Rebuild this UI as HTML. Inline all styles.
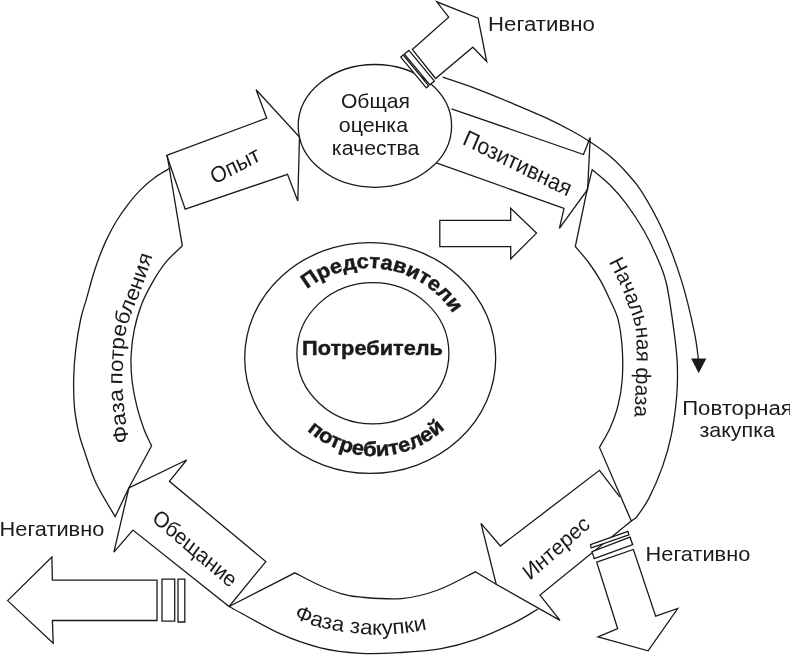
<!DOCTYPE html>
<html><head><meta charset="utf-8"><title>diagram</title>
<style>
html,body{margin:0;padding:0;background:#fff;}
body{width:790px;height:655px;overflow:hidden;font-family:"Liberation Sans",sans-serif;}
svg{display:block;will-change:transform;opacity:0.999;}
</style></head><body>
<svg width="790" height="655" viewBox="0 0 790 655">
<rect width="790" height="655" fill="#fff"/>
<defs>
<path id="p_fp" d="M129.3 447.0 C129.2 446.0 128.9 444.7 128.5 441.0 C128.1 437.3 127.3 430.5 126.6 425.0 C125.9 419.5 125.0 413.7 124.3 408.0 C123.6 402.3 122.9 395.7 122.6 391.0 C122.3 386.3 122.4 383.8 122.4 380.0 C122.4 376.2 122.7 371.7 122.8 368.0 C122.9 364.3 123.1 361.4 123.3 358.0 C123.5 354.6 123.7 350.7 123.9 347.3 C124.2 343.9 124.3 340.6 124.8 337.4 C125.3 334.2 126.0 331.2 126.8 328.0 C127.6 324.8 128.3 322.1 129.6 318.4 C130.9 314.7 132.8 309.9 134.4 306.0 C136.0 302.1 137.7 298.7 139.2 295.0 C140.7 291.3 141.9 287.9 143.3 284.0 C144.7 280.1 146.0 275.7 147.4 271.6 C148.8 267.5 150.5 262.2 151.5 259.2 C152.5 256.2 152.6 256.1 153.3 253.7 C154.1 251.3 155.6 246.4 156.0 245.0"/>
<path id="p_nf" d="M605.5 255.0 C606.1 256.4 607.1 258.6 609.4 263.1 C611.7 267.7 616.8 277.6 619.1 282.3 C621.4 287.0 621.9 288.0 623.2 291.3 C624.5 294.6 625.6 298.8 626.9 302.3 C628.2 305.9 629.8 309.2 631.0 312.6 C632.2 316.0 633.3 319.3 634.2 322.9 C635.1 326.5 635.8 329.5 636.2 334.0 C636.6 338.5 636.6 344.8 636.6 350.0 C636.6 355.2 636.4 358.3 636.2 365.0 C636.0 371.7 635.8 381.5 635.5 390.0 C635.2 398.5 635.0 407.7 634.5 416.0 C634.0 424.3 632.8 436.0 632.5 440.0"/>
<path id="p_fz" d="M290.0 614.0 C291.7 615.1 295.0 618.3 300.0 620.5 C305.0 622.7 312.2 625.3 320.0 627.3 C327.8 629.2 337.6 631.0 346.8 632.2 C356.0 633.4 366.1 634.5 375.0 634.7 C383.9 634.9 391.7 634.4 400.0 633.6 C408.3 632.8 417.5 631.4 425.0 629.8 C432.5 628.2 441.7 625.0 445.0 624.0"/>
<path id="p_pr" d="M306.9 289.0 C308.0 288.3 311.2 285.9 313.4 284.4 C315.6 283.0 317.8 281.6 320.2 280.4 C322.5 279.1 324.8 277.9 327.2 276.9 C329.7 275.8 332.1 274.8 334.6 273.9 C337.1 273.0 339.6 272.2 342.1 271.5 C344.7 270.8 347.3 270.2 349.9 269.8 C352.5 269.3 355.1 268.9 357.7 268.6 C360.3 268.3 363.0 268.1 365.6 268.0 C368.2 268.0 370.9 268.0 373.5 268.1 C376.1 268.2 378.8 268.5 381.4 268.8 C384.0 269.1 386.6 269.6 389.2 270.1 C391.8 270.6 394.4 271.3 396.9 272.0 C399.4 272.8 401.9 273.6 404.4 274.5 C406.9 275.5 409.3 276.5 411.7 277.6 C414.1 278.7 416.4 279.9 418.7 281.3 C421.0 282.6 423.3 284.0 425.4 285.4 C427.6 286.9 429.7 288.5 431.8 290.1 C433.9 291.8 435.9 293.5 437.8 295.3 C439.7 297.1 441.6 299.0 443.4 300.9 C445.1 302.9 446.8 304.9 448.5 307.0 C450.1 309.1 451.6 311.2 453.1 313.4 C454.5 315.6 455.9 317.9 457.2 320.2 C458.5 322.5 459.7 324.9 460.8 327.3 C461.8 329.7 463.2 333.4 463.7 334.6"/>
<path id="p_po" d="M306.9 430.3 C307.9 431.1 310.8 433.6 312.8 435.1 C314.8 436.7 316.9 438.1 319.0 439.5 C321.1 440.9 323.3 442.2 325.5 443.4 C327.7 444.6 330.0 445.7 332.3 446.8 C334.6 447.8 336.9 448.8 339.3 449.7 C341.6 450.6 344.1 451.4 346.5 452.1 C348.9 452.8 351.4 453.4 353.8 453.9 C356.3 454.4 358.8 454.8 361.3 455.2 C363.8 455.5 366.3 455.8 368.8 455.9 C371.4 456.1 373.9 456.1 376.4 456.1 C378.9 456.1 381.5 455.9 384.0 455.7 C386.5 455.5 389.0 455.2 391.5 454.8 C394.0 454.4 396.5 453.9 398.9 453.3 C401.4 452.7 403.8 452.0 406.2 451.2 C408.6 450.5 411.0 449.6 413.4 448.7 C415.7 447.7 418.0 446.7 420.3 445.6 C422.6 444.5 424.8 443.3 427.0 442.0 C429.1 440.7 431.3 439.3 433.4 437.9 C435.4 436.5 437.5 435.0 439.4 433.4 C441.4 431.8 443.3 430.1 445.2 428.4 C447.0 426.7 448.8 424.9 450.5 423.0 C452.2 421.2 453.9 419.3 455.4 417.3 C457.0 415.3 458.5 413.3 459.9 411.2 C461.3 409.1 463.3 405.8 463.9 404.8"/>
</defs>
<g fill="none" stroke="#1a1a1a" stroke-width="1.3" stroke-linejoin="miter">
<ellipse cx="370.2" cy="358" rx="125.5" ry="115.4"/>
<ellipse cx="372.9" cy="353.3" rx="76" ry="70.6"/>
<ellipse cx="374.9" cy="125.9" rx="76.7" ry="61.4"/>
<path d="M166.7 155.3 L266.7 118.1 L256.1 89.7 L299.5 137.0 L297.8 200.9 L287.5 174.3 L185.2 209.2 Z"/>
<path d="M170.6 167.8 C168.1 169.4 160.5 173.4 155.5 177.1 C150.5 180.8 145.1 185.3 140.5 189.9 C135.9 194.5 131.8 199.6 127.7 204.9 C123.6 210.2 119.5 216.1 115.9 222.0 C112.3 227.9 109.2 234.0 106.3 240.1 C103.4 246.2 101.1 252.1 98.8 258.3 C96.5 264.5 94.5 270.7 92.4 277.5 C90.4 284.3 88.4 292.1 86.5 298.9 C84.6 305.7 82.6 310.2 80.8 318.5 C79.0 326.8 77.0 339.0 75.8 348.9 C74.6 358.8 73.9 368.2 73.7 377.8 C73.5 387.4 73.6 397.5 74.4 406.6 C75.2 415.7 77.0 425.0 78.6 432.2 C80.2 439.4 81.1 441.4 84.0 449.9 C86.9 458.4 90.8 471.9 96.0 483.0 C101.2 494.1 112.0 511.1 115.2 516.7 L128.9 487.8 L151.6 445.8 C150.3 443.0 146.3 435.5 143.9 429.0 C141.5 422.5 138.9 414.6 136.9 406.6 C134.9 398.6 133.1 389.6 132.1 381.0 C131.1 372.4 130.7 363.9 131.1 355.3 C131.5 346.8 132.5 338.2 134.3 329.7 C136.1 321.2 138.6 312.1 141.7 304.1 C144.8 296.1 148.9 288.6 152.9 281.6 C156.9 274.7 160.8 268.4 165.7 262.4 C170.6 256.4 179.5 248.6 182.3 245.8 L167.2 155.5"/>
<path d="M128.9 487.8 L186.6 460.0 L169.4 481.3 L265.8 561.6 L229.1 606.5 L132.9 530.1 L113.9 552.2 Z"/>
<path d="M229.1 606.5 L294.9 572.8 C299.1 574.9 312.2 582.0 320.0 585.5 C327.8 589.0 335.0 591.8 341.8 593.8 C348.6 595.8 351.1 596.4 361.0 597.2 C370.9 598.0 388.7 599.8 401.5 598.6 C414.3 597.4 425.7 594.5 438.0 590.0 C450.3 585.5 469.0 574.8 475.2 571.8 L496.2 584.2 M538.0 609.0 C534.0 611.3 524.2 617.8 513.9 622.9 C503.6 628.0 488.3 635.1 476.0 639.4 C463.7 643.7 452.4 646.7 440.0 648.9 C427.6 651.1 414.7 651.8 401.5 652.5 C388.3 653.2 374.5 654.1 361.0 653.3 C347.5 652.5 334.0 651.1 320.5 647.8 C307.0 644.5 295.2 640.6 280.0 633.7 C264.8 626.8 237.6 611.0 229.1 606.5"/>
<path d="M619.7 496.8 L599.5 470.3 L500.4 546.0 L481.0 523.4 L496.2 584.2 L560.0 620.4 L540.0 595.1 L631.3 521.0"/>
<path d="M587.1 190.0 L575.3 246.5 C577.6 249.2 584.8 257.3 589.0 263.0 C593.2 268.7 597.0 274.4 600.5 280.6 C604.0 286.8 607.1 293.6 610.0 300.0 C612.9 306.4 616.0 311.2 618.0 319.2 C620.0 327.2 621.5 337.9 622.2 348.0 C622.9 358.1 622.9 370.4 622.2 380.0 C621.5 389.6 620.0 397.7 618.0 405.7 C616.0 413.7 613.1 421.2 610.0 428.2 C606.9 435.1 601.2 444.2 599.5 447.4 L631.3 521.0 L636.3 517.5 C638.4 514.4 644.3 507.1 648.7 498.6 C653.1 490.1 658.7 477.3 662.5 466.6 C666.3 455.9 669.0 446.4 671.4 434.6 C673.8 422.8 675.7 407.8 676.7 396.0 C677.7 384.2 677.7 374.7 677.3 364.0 C676.9 353.3 675.9 345.5 674.1 332.0 C672.3 318.5 669.3 295.8 666.3 283.0 C663.3 270.2 659.8 263.8 656.0 255.0 C652.2 246.2 648.5 238.5 643.5 230.0 C638.5 221.5 631.9 211.4 626.3 203.9 C620.7 196.4 615.7 190.7 610.0 185.0 C604.3 179.3 595.2 172.2 592.2 169.7 L587.1 190.0"/>
<path d="M451.5 108.8 L583.5 154.5 L590.2 137.5 L587.6 189.5 L559.4 228.4 L564.0 208.4 L436.3 162.9"/>
<path d="M442.6 77.2 C448.1 79.1 464.6 84.4 475.8 88.6 C487.1 92.8 498.7 97.6 510.1 102.4 C521.6 107.2 534.2 112.4 544.5 117.2 C554.8 122.0 564.4 126.9 572.0 131.0 C579.6 135.1 584.0 137.8 590.3 142.0 C596.6 146.2 604.0 151.2 610.0 156.2 C616.0 161.2 620.8 166.2 626.0 172.0 C631.2 177.8 635.4 181.6 641.5 191.3 C647.6 201.0 655.8 215.1 662.5 230.0 C669.2 244.9 676.2 263.7 681.5 280.6 C686.8 297.5 691.4 318.1 694.2 331.3 C697.0 344.5 697.8 355.2 698.5 360.0"/>
<path d="M439.8 220.4 L510.7 220.4 L510.7 208.2 L536.5 233.1 L510.7 258.9 L510.7 246.7 L439.8 246.7 Z"/>
<path d="M7.6 600.6 L51.9 557.1 L52.4 580.2 L157.0 580.2 L157.0 620.5 L52.4 620.5 L53.2 643.2 Z"/>
<path d="M162.0 579.1 L174.7 579.1 L174.7 621.1 L162.0 621.1 Z"/>
<path d="M178.0 579.1 L184.8 579.1 L184.8 622.0 L178.0 622.0 Z"/>
<path d="M596.7 562.2 L633.4 549.5 L655.7 616.1 L677.7 608.5 L648.1 650.8 L598.0 636.8 L617.7 628.7 Z"/>
<path d="M412.3 49.4 L448.7 17.2 L436.8 1.8 L478.1 18.2 L486.7 61.5 L472.8 47.2 L435.6 78.5 Z"/>
</g>
<g fill="#fff" stroke="#1a1a1a" stroke-width="1.3" stroke-linejoin="miter">
<path d="M592.1 551.7 L630.0 537.2 L632.7 544.7 L594.2 558.6 Z"/>
<path d="M590.5 544.7 L627.9 531.4 L628.9 534.8 L591.2 547.9 Z"/>
<path d="M408.9 50.4 L434.4 81.1 L429.9 84.8 L404.4 54.1 Z"/>
<path d="M403.3 55.0 L428.7 85.8 L426.3 87.8 L400.8 57.1 Z"/>
</g>
<g fill="#1a1a1a" stroke="none">
<path d="M691.1 358.6 L706.3 358.6 L698.7 373.2 Z"/>
</g>
<g fill="#1a1a1a" font-family="Liberation Sans, sans-serif">
<text transform="translate(375.4 108.3) scale(1.030 1)" font-size="20.5" text-anchor="middle">Общая</text>
<text transform="translate(373.4 131.8) scale(1.043 1)" font-size="20.5" text-anchor="middle">оценка</text>
<text transform="translate(375.6 155.2) scale(1.040 1)" font-size="20.5" text-anchor="middle">качества</text>
<text transform="translate(372.5 354.8) scale(1.067 1)" font-size="20.4" text-anchor="middle" font-weight="bold" stroke="#1a1a1a" stroke-width="0.45">Потребитель</text>
<text transform="translate(645.6 561.2) scale(1.036 1)" font-size="21.0" text-anchor="start">Негативно</text>
<text transform="translate(-0.4 535.7) scale(1.036 1)" font-size="21.0" text-anchor="start">Негативно</text>
<text transform="translate(488.1 31.2) scale(1.056 1)" font-size="21.0" text-anchor="start">Негативно</text>
<text transform="translate(737.5 414.6) scale(1.055 1)" font-size="21.0" text-anchor="middle">Повторная</text>
<text transform="translate(737.2 437.4) scale(1.022 1)" font-size="21.0" text-anchor="middle">закупка</text>
<text transform="translate(234.8 165.1) scale(0.9623 1.0392) rotate(-26.12)" font-size="21.8" text-anchor="middle" y="7.8">Опыт</text>
<text transform="translate(517.8 162.8) scale(0.9623 1.0392) rotate(24.88)" font-size="22.2" text-anchor="middle" y="7.9">Позитивная</text>
<text transform="translate(555.8 547.6) scale(0.9623 1.0392) rotate(-39.42)" font-size="21.3" text-anchor="middle" y="7.6">Интерес</text>
<text transform="translate(195.2 548.1) scale(0.9623 1.0392) rotate(38.44)" font-size="21.3" text-anchor="middle" y="7.6">Обещание</text>
<text font-size="21.0" text-anchor="start"><textPath href="#p_fp" startOffset="4.6" textLength="54.0" lengthAdjust="spacingAndGlyphs">Фаза</textPath></text>
<text font-size="21.0" text-anchor="start"><textPath href="#p_fp" startOffset="63.0" textLength="133.5" lengthAdjust="spacingAndGlyphs">потребления</textPath></text>
<text font-size="21.0" text-anchor="start"><textPath href="#p_nf" startOffset="7.4" textLength="160.5" lengthAdjust="spacingAndGlyphs">Начальная фаза</textPath></text>
<text font-size="21.0" text-anchor="start"><textPath href="#p_fz" startOffset="5" textLength="136.0" lengthAdjust="spacingAndGlyphs">Фаза закупки</textPath></text>
<text font-size="20.4" font-weight="bold" stroke="#1a1a1a" stroke-width="0.45" text-anchor="start"><textPath href="#p_pr" startOffset="0" textLength="166.5" lengthAdjust="spacingAndGlyphs">Представители</textPath></text>
<text font-size="20.4" font-weight="bold" stroke="#1a1a1a" stroke-width="0.45" text-anchor="start"><textPath href="#p_po" startOffset="0" textLength="151.5" lengthAdjust="spacingAndGlyphs">потребителей</textPath></text>
</g>
</svg>
</body></html>
